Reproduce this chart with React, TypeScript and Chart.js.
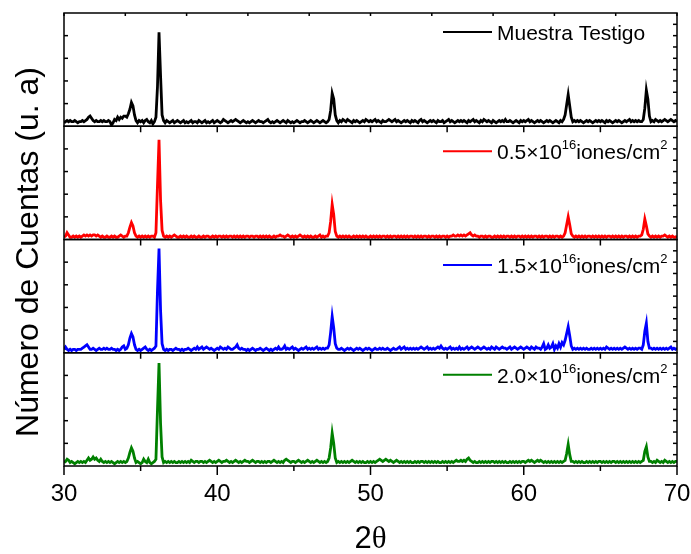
import React, { useEffect, useRef } from "react";
import { Chart, registerables } from "chart.js";

Chart.register(...registerables);

// 2θ sampling grid: 30.0 … 70.0 in 0.1° steps
const TWO_THETA: number[] = Array.from({ length: 401 }, (_, i) => Math.round((30 + i * 0.1) * 10) / 10);

// Intensities (arbitrary units, 0–100 of each panel), one row per degree
const MUESTRA_TESTIGO = [
  3,4,5,4,5,4,4,5,4,3, // 30
  4,4,5,4,5,6,8,9,7,5, // 31
  4,5,4,4,5,4,5,4,4,5, // 32
  4,1,3,6,5,8,6,8,7,9, // 33
  9,8,11,15,21,18,10,5,3,5, // 34
  4,5,3,5,6,4,3,5,2,4, // 35
  8,35,83,45,10,5,3,5,4,3, // 36
  4,5,3,4,5,4,3,4,5,3, // 37
  4,3,4,5,3,4,4,3,5,4, // 38
  3,4,5,3,4,3,4,5,3,4, // 39
  5,4,3,4,6,5,4,3,4,5, // 40
  4,5,6,5,4,3,4,5,4,3, // 41
  4,3,4,5,4,3,4,5,4,4, // 42
  3,4,5,6,4,3,4,3,4,5, // 43
  4,3,4,5,4,3,5,4,3,4, // 44
  3,4,5,4,3,4,4,5,4,3, // 45
  4,5,4,3,4,5,4,3,4,5, // 46
  4,3,4,6,14,29,24,10,5,3, // 47
  5,4,6,5,4,6,5,4,3,5, // 48
  4,5,4,3,4,5,4,6,5,4, // 49
  5,4,5,6,4,5,4,3,5,4, // 50
  4,5,6,5,4,5,6,4,5,4, // 51
  3,4,5,4,5,4,3,5,4,5, // 52
  4,3,5,6,4,5,4,3,4,5, // 53
  4,5,4,3,5,4,4,5,3,4, // 54
  5,6,4,5,4,3,4,5,4,5, // 55
  4,5,4,3,5,4,5,6,4,5, // 56
  4,3,5,4,6,5,4,5,4,3, // 57
  5,4,3,4,5,4,5,4,6,4, // 58
  4,5,4,3,4,5,4,3,5,4, // 59
  5,4,5,6,4,5,4,3,4,5, // 60
  4,5,4,3,4,5,4,5,4,3, // 61
  4,5,4,3,5,4,6,10,19,28, // 62
  18,8,4,5,4,5,4,5,4,3, // 63
  4,5,4,5,4,3,4,5,4,5, // 64
  4,5,4,3,5,4,5,4,3,4, // 65
  5,4,5,4,3,4,5,4,5,6, // 66
  4,5,4,5,4,5,4,4,6,16, // 67
  32,24,9,4,5,4,6,5,4,5, // 68
  4,5,6,5,4,5,6,5,4,5, // 69
  4, // 70
];

const DOSIS_05 = [
  2,3,6,4,2,2,3,2,3,2, // 30
  3,2,3,4,3,4,3,4,3,4, // 31
  4,3,4,3,2,3,2,2,3,2, // 32
  2,3,2,3,2,2,3,4,3,2, // 33
  3,3,6,11,15,12,6,3,2,3, // 34
  2,3,2,3,2,3,2,3,3,2, // 35
  6,48,88,35,8,3,2,3,2,3, // 36
  2,3,4,3,2,2,3,2,3,2, // 37
  3,2,2,3,2,3,2,2,3,2, // 38
  2,3,2,3,3,2,2,3,2,3, // 39
  2,3,3,2,3,2,3,2,3,3, // 40
  2,3,2,3,2,3,2,3,2,3, // 41
  3,2,3,3,2,3,3,2,3,2, // 42
  3,2,3,2,3,2,2,3,2,3, // 43
  3,4,3,3,2,3,4,3,2,3, // 44
  2,3,2,3,4,3,2,3,2,3, // 45
  2,3,2,2,3,2,3,4,2,3, // 46
  2,3,3,6,16,31,22,7,3,2, // 47
  3,2,3,2,3,2,3,2,2,3, // 48
  2,3,2,3,2,3,2,3,2,2, // 49
  3,2,3,2,3,2,3,2,3,3, // 50
  2,3,2,3,2,3,3,2,3,2, // 51
  3,2,3,2,3,2,3,3,2,3, // 52
  2,3,2,3,2,3,3,2,3,2, // 53
  3,3,2,3,2,3,2,3,3,2, // 54
  3,2,3,3,4,3,3,4,3,4, // 55
  3,4,3,4,5,6,4,3,4,3, // 56
  3,2,3,3,2,3,2,3,3,2, // 57
  2,3,2,3,2,3,2,3,2,3, // 58
  3,2,3,2,3,2,3,3,2,3, // 59
  2,3,2,3,2,3,2,3,3,2, // 60
  3,2,3,2,3,3,2,3,2,3, // 61
  2,3,3,2,3,2,3,6,13,20, // 62
  13,5,3,2,3,2,3,2,3,2, // 63
  3,2,3,3,2,3,2,3,2,3, // 64
  2,3,2,3,2,3,3,2,3,2, // 65
  3,2,3,2,3,2,3,3,2,3, // 66
  2,3,2,3,2,3,3,4,9,18, // 67
  12,5,3,2,3,2,3,2,3,2, // 68
  3,3,4,3,2,3,2,3,2,2, // 69
  3, // 70
];

const DOSIS_15 = [
  3,5,3,2,3,2,3,3,2,3, // 30
  3,3,4,5,6,7,5,3,3,4, // 31
  3,2,3,4,3,3,4,3,4,3, // 32
  3,4,3,3,2,3,2,3,5,6, // 33
  3,4,7,13,17,14,7,3,2,3, // 34
  2,3,4,5,3,2,3,2,3,4, // 35
  6,55,92,38,8,3,2,3,2,3, // 36
  3,2,3,4,3,3,2,3,2,3, // 37
  3,4,3,2,3,4,3,5,3,4, // 38
  5,3,4,5,4,3,4,3,2,3, // 39
  4,3,5,4,3,4,3,5,4,3, // 40
  3,4,5,7,4,3,4,3,3,2, // 41
  3,2,3,4,3,2,3,3,4,3, // 42
  2,3,4,3,2,3,2,3,4,3, // 43
  5,3,3,4,6,3,4,3,4,5, // 44
  3,4,3,2,3,4,3,4,5,3, // 45
  4,3,4,3,4,5,3,4,3,4, // 46
  3,4,4,7,18,32,22,8,4,3, // 47
  3,4,3,2,3,4,3,4,3,2, // 48
  3,4,3,4,3,2,3,4,3,4, // 49
  3,2,3,4,3,3,4,3,4,3, // 50
  3,4,3,2,3,4,3,3,4,5, // 51
  3,4,5,3,4,3,4,3,4,3, // 52
  4,3,4,5,4,3,4,5,3,4, // 53
  3,4,3,4,5,4,6,4,3,4, // 54
  3,4,5,3,4,3,4,3,5,3, // 55
  4,3,4,5,3,4,5,4,3,4, // 56
  5,4,3,4,5,4,3,4,3,5, // 57
  4,3,5,4,3,4,5,4,4,3, // 58
  4,5,3,4,5,4,3,4,5,4, // 59
  3,4,5,4,3,5,4,3,5,4, // 60
  4,3,5,8,3,4,7,4,5,8, // 61
  3,6,4,8,5,9,7,11,17,23, // 62
  15,6,3,4,3,4,3,4,3,4, // 63
  3,4,3,3,4,3,4,3,4,3, // 64
  4,3,4,3,5,4,3,4,3,4, // 65
  3,4,3,4,3,4,5,4,3,4, // 66
  3,4,3,4,3,4,4,3,7,19, // 67
  26,10,4,4,3,4,3,4,3,4, // 68
  3,4,3,4,3,4,5,3,4,3, // 69
  4, // 70
];

const DOSIS_20 = [
  3,4,6,5,3,4,3,2,3,4, // 30
  3,4,3,4,3,5,7,5,6,8, // 31
  6,7,5,4,6,4,3,4,3,4, // 32
  3,4,3,2,3,4,3,4,3,4, // 33
  3,4,7,12,16,13,7,3,4,3, // 34
  2,3,6,4,3,6,3,2,3,4, // 35
  6,50,91,38,8,3,4,3,4,3, // 36
  4,3,4,3,3,4,3,4,3,4, // 37
  3,4,3,5,4,3,4,4,3,4, // 38
  4,3,4,3,4,5,4,3,4,3, // 39
  4,5,4,3,4,4,5,4,3,4, // 40
  3,4,5,4,3,4,3,4,5,4, // 41
  4,3,4,5,4,3,4,4,3,4, // 42
  3,4,3,4,4,3,4,5,4,3, // 43
  4,3,4,3,5,6,5,4,3,4, // 44
  4,3,4,5,4,3,4,3,4,5, // 45
  4,3,4,3,4,5,4,3,4,3, // 46
  4,3,4,7,16,29,20,7,3,4, // 47
  3,4,3,4,3,4,3,4,5,4, // 48
  3,4,3,4,3,4,3,3,4,3, // 49
  4,3,4,3,4,5,6,5,4,5, // 50
  6,5,4,5,4,3,4,5,4,3, // 51
  4,3,4,3,4,3,4,3,3,4, // 52
  3,4,3,4,4,3,4,3,4,3, // 53
  4,3,4,3,4,3,3,4,3,4, // 54
  3,4,3,4,3,4,5,4,4,5, // 55
  4,5,4,6,7,5,4,3,4,3, // 56
  3,4,3,4,3,4,3,4,3,4, // 57
  4,3,4,3,4,3,4,3,4,3, // 58
  3,4,3,4,3,4,3,4,3,4, // 59
  4,3,4,5,4,5,4,3,4,5, // 60
  4,5,4,3,4,3,4,3,4,3, // 61
  4,3,4,3,4,3,4,5,11,19, // 62
  10,4,4,3,4,3,4,3,4,3, // 63
  3,4,3,4,3,4,3,4,3,4, // 64
  4,3,4,3,4,3,4,3,4,4, // 65
  3,4,3,4,3,4,3,4,3,4, // 66
  3,4,3,4,3,4,3,4,5,13, // 67
  17,8,4,4,3,4,3,5,4,3, // 68
  4,3,5,4,3,4,3,4,3,4, // 69
  4, // 70
];

const SERIES = [MUESTRA_TESTIGO, DOSIS_05, DOSIS_15, DOSIS_20];
const SERIES_LABELS = [
  "Muestra Testigo",
  "0.5×10^{16}iones/cm^{2}",
  "1.5×10^{16}iones/cm^{2}",
  "2.0×10^{16}iones/cm^{2}",
];
const SERIES_COLORS = ["#000000", "#ff0000", "#0000ff", "#008000"];
const PANEL_IDS = ["y1", "y2", "y3", "y4"];
const X_TICKS = [30, 40, 50, 60, 70];
const X_MINOR_TICKS = [35, 45, 55, 65];
const X_TOP_TICKS = [30, 34, 38, 42, 46, 50, 54, 58, 62, 66, 70];
const DIVIDER_TICKS = [35, 40, 45, 50, 55, 60, 65];
const LEFT_TICKS = [20, 40, 60, 80];
const RIGHT_TICKS = [10, 20, 30, 40, 50, 60, 70, 80, 90];
const Y_MAX = 100;
const LEGEND_BASELINE_OFFSET = [27, 33, 33.5, 30];

const SANS = '"Liberation Sans", Arial, Helvetica, sans-serif';
const SERIF = '"Liberation Serif", "Times New Roman", serif';

function parseLabel(s: string) {
  const parts: { t: string; sup: boolean }[] = [];
  const re = /\^\{([^}]*)\}/g;
  let last = 0;
  let m: RegExpExecArray | null;
  while ((m = re.exec(s))) {
    if (m.index > last) parts.push({ t: s.slice(last, m.index), sup: false });
    parts.push({ t: m[1], sup: true });
    last = m.index + m[0].length;
  }
  if (last < s.length) parts.push({ t: s.slice(last), sup: false });
  return parts;
}

const framePlugin = {
  id: "xrdFrame",
  afterDatasetsDraw(chart: any) {
    const { ctx, chartArea: ca, scales } = chart;
    const xs = scales.x;
    ctx.save();
    ctx.strokeStyle = "#000";
    ctx.lineWidth = 1.5;
    ctx.lineCap = "butt";
    const line = (x1: number, y1: number, x2: number, y2: number) => {
      ctx.beginPath();
      ctx.moveTo(x1, y1);
      ctx.lineTo(x2, y2);
      ctx.stroke();
    };
    PANEL_IDS.forEach((id, i) => {
      const ys = scales[id];
      const top = ys.getPixelForValue(Y_MAX);
      const bottom = ys.getPixelForValue(0);
      ctx.strokeRect(ca.left, top, ca.right - ca.left, bottom - top);
      LEFT_TICKS.forEach((v) => {
        const y = ys.getPixelForValue(v);
        line(ca.left, y, ca.left + 4, y);
      });
      RIGHT_TICKS.forEach((v) => {
        const y = ys.getPixelForValue(v);
        line(ca.right, y, ca.right - 4, y);
      });
      if (i < PANEL_IDS.length - 1) {
        DIVIDER_TICKS.forEach((v) => {
          const x = xs.getPixelForValue(v);
          line(x, bottom, x, bottom + 6);
        });
      }
      // legend
      const base = top + LEGEND_BASELINE_OFFSET[i];
      ctx.strokeStyle = SERIES_COLORS[i];
      ctx.lineWidth = 2;
      line(443, base - 8, 492, base - 8);
      ctx.strokeStyle = "#000";
      ctx.lineWidth = 1.5;
      ctx.fillStyle = "#000";
      ctx.textAlign = "left";
      ctx.textBaseline = "alphabetic";
      let x = 497;
      parseLabel(SERIES_LABELS[i]).forEach((p) => {
        ctx.font = (p.sup ? "13px " : "21px ") + SANS;
        ctx.fillText(p.t, x, p.sup ? base - 10 : base);
        x += ctx.measureText(p.t).width;
      });
    });
    X_TOP_TICKS.forEach((v) => {
      const x = xs.getPixelForValue(v);
      line(x, ca.top, x, ca.top + 3);
    });
    X_TICKS.forEach((v) => {
      const x = xs.getPixelForValue(v);
      line(x, ca.bottom, x, ca.bottom + 9);
    });
    X_MINOR_TICKS.forEach((v) => {
      const x = xs.getPixelForValue(v);
      line(x, ca.bottom, x, ca.bottom + 5);
    });
    // axis titles
    ctx.fillStyle = "#000";
    ctx.save();
    ctx.translate(38, 252);
    ctx.rotate(-Math.PI / 2);
    ctx.font = "32px " + SANS;
    ctx.textAlign = "center";
    ctx.textBaseline = "alphabetic";
    ctx.fillText("Número de Cuentas (u. a)", 0, 0);
    ctx.restore();
    ctx.textAlign = "left";
    ctx.font = "31px " + SANS;
    const w2 = ctx.measureText("2").width;
    ctx.font = "31px " + SERIF;
    const wT = ctx.measureText("θ").width;
    const cx = (ca.left + ca.right) / 2;
    const startX = cx - (w2 + wT) / 2;
    ctx.font = "31px " + SANS;
    ctx.fillText("2", startX, 548);
    ctx.font = "31px " + SERIF;
    ctx.fillText("θ", startX + w2, 548);
    ctx.restore();
  },
};

export default function App() {
  const ref = useRef<HTMLCanvasElement>(null);
  useEffect(() => {
    document.body.style.margin = "0";
    const yScale = () => ({
      type: "linear",
      position: "left",
      stack: "panels",
      stackWeight: 1,
      offset: false,
      min: 0,
      max: Y_MAX,
      display: true,
      ticks: { display: false },
      grid: { display: false },
      border: { display: false },
      afterFit: (s: any) => {
        s.width = 0;
      },
    });
    const scales: any = {
      x: {
        type: "linear",
        min: 30,
        max: 70,
        ticks: {
          stepSize: 10,
          color: "#000",
          font: { family: SANS, size: 24 },
          padding: 6,
          maxRotation: 0,
        },
        grid: { display: false },
        border: { display: false },
        afterFit: (s: any) => {
          s.height = 88;
          s.paddingLeft = 0;
          s.paddingRight = 0;
        },
      },
    };
    // later-defined left axes are stacked on top
    [...PANEL_IDS].reverse().forEach((id) => {
      scales[id] = yScale();
    });
    const chart = new Chart(ref.current!, {
      type: "line",
      data: {
        datasets: SERIES.map((vals, i) => ({
          label: SERIES_LABELS[i].replace(/\^\{([^}]*)\}/g, "$1"),
          data: TWO_THETA.map((x, j) => ({ x, y: vals[j] })),
          borderColor: SERIES_COLORS[i],
          borderWidth: 2.8,
          pointRadius: 0,
          tension: 0,
          yAxisID: PANEL_IDS[i],
        })),
      },
      options: {
        responsive: false,
        animation: false,
        layout: { padding: { left: 64, right: 14, top: 13, bottom: 0 } },
        plugins: { legend: { display: false }, tooltip: { enabled: false } },
        scales,
      },
      plugins: [framePlugin],
    } as any);
    return () => chart.destroy();
  }, []);
  return (
    <div style={{ width: 691, height: 554, background: "#fff" }}>
      <canvas ref={ref} width={691} height={554} style={{ display: "block" }} />
    </div>
  );
}
